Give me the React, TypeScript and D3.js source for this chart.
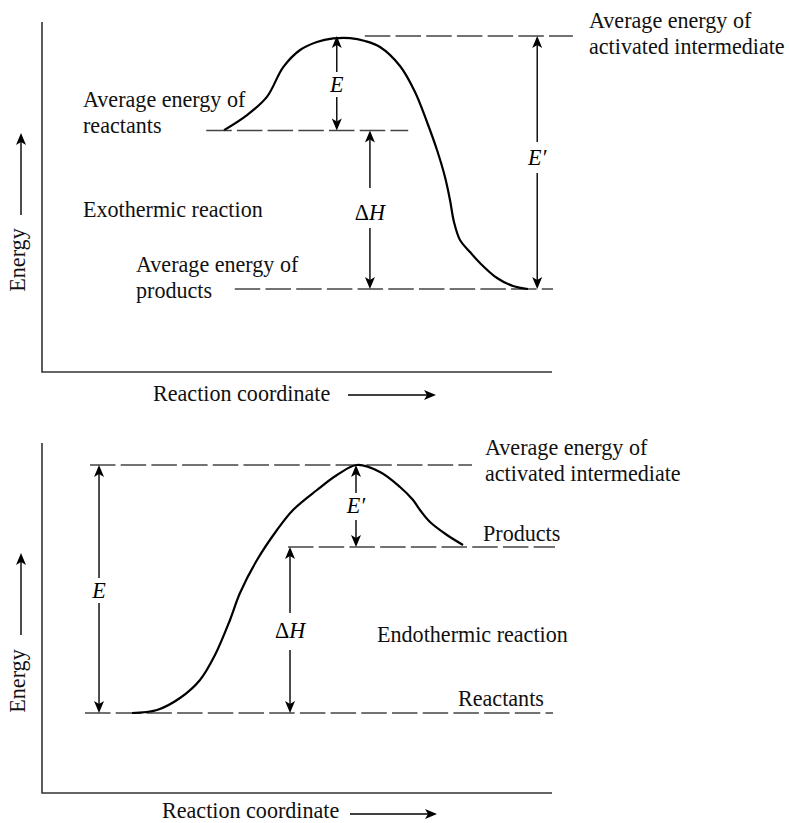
import React from "react";
import * as d3 from "d3";

const W = 789;
const H = 823;

// ---------- DATA (reaction coordinate 0-100, energy 0-100) ----------
// Exothermic panel curve
const exoCurveX = [35.7, 40.2, 44.1, 47.3, 50.6, 53.9, 57.1, 60.4, 63.33, 66.27, 70.2, 73.14, 75.49, 77.45, 79.02, 80.0, 80.78, 81.96, 83.92, 85.88, 89.22, 92.35, 95.29];
const exoCurveY = [69.1, 73.4, 78.6, 87.1, 92.0, 94.3, 95.3, 95.4, 94.57, 92.86, 87.43, 80.0, 71.43, 63.43, 55.71, 49.14, 42.86, 37.71, 34.29, 31.14, 26.86, 24.57, 23.71];
// Exothermic energy levels: activated, reactants, products
const exoLevels = [96, 69, 23.7];
const exoLevelStart = [63.3, 32.2, 37.8];
const exoLevelEnd = [104.1, 71.8, 100.2];
// Exothermic arrows: E, ΔH, E′
const exoArrowX = [57.8, 64.3, 97.1];
const exoArrowTop = [96, 69, 96];
const exoArrowBottom = [69, 23.7, 23.7];
const exoArrowLabels = ["E", "ΔH", "E′"];

// Endothermic panel curve
const endoCurveX = [17.65, 22.55, 27.06, 30.98, 33.92, 36.86, 38.82, 42.16, 46.08, 49.22, 53.92, 57.84, 61.76, 66.27, 70.2, 72.75, 74.12, 76.08, 79.41, 82.55];
const endoCurveY = [22.86, 23.71, 27.14, 32.29, 39.43, 49.43, 57.14, 66.57, 75.14, 80.86, 86.57, 90.86, 93.71, 91.71, 87.43, 83.71, 80.86, 77.43, 73.71, 70.86];
// Endothermic energy levels: activated, products, reactants
const endoLevels = [93.71, 70.29, 22.86];
const endoLevelStart = [9.41, 48.24, 8.43];
const endoLevelEnd = [84.31, 100.59, 100.2];
// Endothermic arrows: E, E′, ΔH
const endoArrowX = [11.18, 61.57, 48.63];
const endoArrowTop = [93.71, 93.71, 70.29];
const endoArrowBottom = [22.86, 70.29, 22.86];
const endoArrowLabels = ["E", "E′", "ΔH"];

// Texts
const exoTexts = [
  ["Average energy of", "activated intermediate"],
  ["Average energy of", "reactants"],
  ["Exothermic reaction"],
  ["Average energy of", "products"],
];
const endoTexts = [
  ["Average energy of", "activated intermediate"],
  ["Products"],
  ["Endothermic reaction"],
  ["Reactants"],
];
const xAxisTitle = "Reaction coordinate";
const yAxisTitle = "Energy";

// ---------- LAYOUT ----------
const FONT = "'Liberation Serif', 'Times New Roman', serif";
const FS = 22.1;
const LINE = 25.5;

const exoLayout = {
  y0: 372, y1: 22,
  texts: [[589, 28], [83, 107], [83, 217], [136, 272]],
  gaps: [[-20, 5], [-32, 8], [-23, 8]],
  labelBase: [92, 220, 165],
  energyMid: 260, energyArrow: [215, 133],
  xTitle: [153, 401], xArrow: [348, 436, 395],
};
const endoLayout = {
  y0: 793, y1: 443,
  texts: [[485, 455], [483, 541], [377, 642], [458, 706]],
  gaps: [[-20, 5], [-20, 7], [-25, 12]],
  labelBase: [598, 513, 638],
  energyMid: 681, energyArrow: [635, 553],
  xTitle: [162, 818], xArrow: [350, 437, 814],
};

const headUp = (x: number, y: number) => `M${x},${y}L${x - 5},${y + 12}L${x},${y + 9}L${x + 5},${y + 12}Z`;
const headDown = (x: number, y: number) => `M${x},${y}L${x - 5},${y - 12}L${x},${y - 9}L${x + 5},${y - 12}Z`;
const headRight = (x: number, y: number) => `M${x},${y}L${x - 12},${y - 5}L${x - 9},${y}L${x - 12},${y + 5}Z`;

function Label({ text, x, y }: { text: string; x: number; y: number }) {
  if (text.startsWith("Δ")) {
    return (
      <text x={x} y={y} textAnchor="middle" fontFamily={FONT} fontSize={FS}>
        <tspan>Δ</tspan>
        <tspan fontStyle="italic">{text.slice(1)}</tspan>
      </text>
    );
  }
  return (
    <text x={x} y={y} textAnchor="middle" fontFamily={FONT} fontSize={FS} fontStyle="italic">
      {text}
    </text>
  );
}

function Panel(props: any) {
  const { cx, cy, levels, lStart, lEnd, ax, aTop, aBot, aLab, texts, layout } = props;
  const x = d3.scaleLinear().domain([0, 100]).range([42, 552]);
  const y = d3.scaleLinear().domain([0, 100]).range([layout.y0, layout.y1]);
  const pts: [number, number][] = cx.map((v: number, i: number) => [v, cy[i]]);
  const line = d3
    .line<[number, number]>()
    .x((d) => x(d[0]))
    .y((d) => y(d[1]))
    .curve(d3.curveCatmullRom.alpha(0.5));

  return (
    <g>
      <path
        d={`M${x(0)},${y(100)}V${y(0)}H${x(100)}`}
        fill="none"
        stroke="#333"
        strokeWidth={1.6}
      />
      {levels.map((lv: number, i: number) => (
        <line
          key={"lv" + i}
          x1={x(lStart[i])}
          x2={x(lEnd[i])}
          y1={y(lv)}
          y2={y(lv)}
          stroke="#444"
          strokeWidth={1.6}
          strokeDasharray="25.5 5.2"
        />
      ))}
      <path d={line(pts) || ""} fill="none" stroke="#000" strokeWidth={2.2} />
      {ax.map((v: number, i: number) => {
        const px = x(v);
        const t = y(aTop[i]);
        const b = y(aBot[i]);
        const base = layout.labelBase[i];
        const g = layout.gaps[i];
        return (
          <g key={"ar" + i}>
            <line x1={px} x2={px} y1={t + 9} y2={base + g[0]} stroke="#000" strokeWidth={1.4} />
            <line x1={px} x2={px} y1={base + g[1]} y2={b - 9} stroke="#000" strokeWidth={1.4} />
            <path d={headUp(px, t)} fill="#000" />
            <path d={headDown(px, b)} fill="#000" />
            <Label text={aLab[i]} x={px} y={base} />
          </g>
        );
      })}
      {texts.map((lines: string[], i: number) => (
        <text key={"tx" + i} fontFamily={FONT} fontSize={FS} fill="#111">
          {lines.map((s, j) => (
            <tspan key={j} x={layout.texts[i][0]} y={layout.texts[i][1] + j * LINE}>
              {s}
            </tspan>
          ))}
        </text>
      ))}
      <text
        transform={`translate(25,${layout.energyMid}) rotate(-90)`}
        textAnchor="middle"
        fontFamily={FONT}
        fontSize={FS}
        fill="#111"
      >
        {yAxisTitle}
      </text>
      <line x1={21} x2={21} y1={layout.energyArrow[0]} y2={layout.energyArrow[1] + 9} stroke="#000" strokeWidth={1.4} />
      <path d={headUp(21, layout.energyArrow[1])} fill="#000" />
      <text x={layout.xTitle[0]} y={layout.xTitle[1]} fontFamily={FONT} fontSize={FS} fill="#111">
        {xAxisTitle}
      </text>
      <line
        x1={layout.xArrow[0]}
        x2={layout.xArrow[1] - 9}
        y1={layout.xArrow[2]}
        y2={layout.xArrow[2]}
        stroke="#000"
        strokeWidth={1.4}
      />
      <path d={headRight(layout.xArrow[1], layout.xArrow[2])} fill="#000" />
    </g>
  );
}

export default function App() {
  return (
    <svg
      width={W}
      height={H}
      viewBox={`0 0 ${W} ${H}`}
      style={{ position: "absolute", left: 0, top: 0, background: "#fff", display: "block" }}
    >
      <rect width={W} height={H} fill="#fff" />
      <Panel
        cx={exoCurveX}
        cy={exoCurveY}
        levels={exoLevels}
        lStart={exoLevelStart}
        lEnd={exoLevelEnd}
        ax={exoArrowX}
        aTop={exoArrowTop}
        aBot={exoArrowBottom}
        aLab={exoArrowLabels}
        texts={exoTexts}
        layout={exoLayout}
      />
      <Panel
        cx={endoCurveX}
        cy={endoCurveY}
        levels={endoLevels}
        lStart={endoLevelStart}
        lEnd={endoLevelEnd}
        ax={endoArrowX}
        aTop={endoArrowTop}
        aBot={endoArrowBottom}
        aLab={endoArrowLabels}
        texts={endoTexts}
        layout={endoLayout}
      />
    </svg>
  );
}
